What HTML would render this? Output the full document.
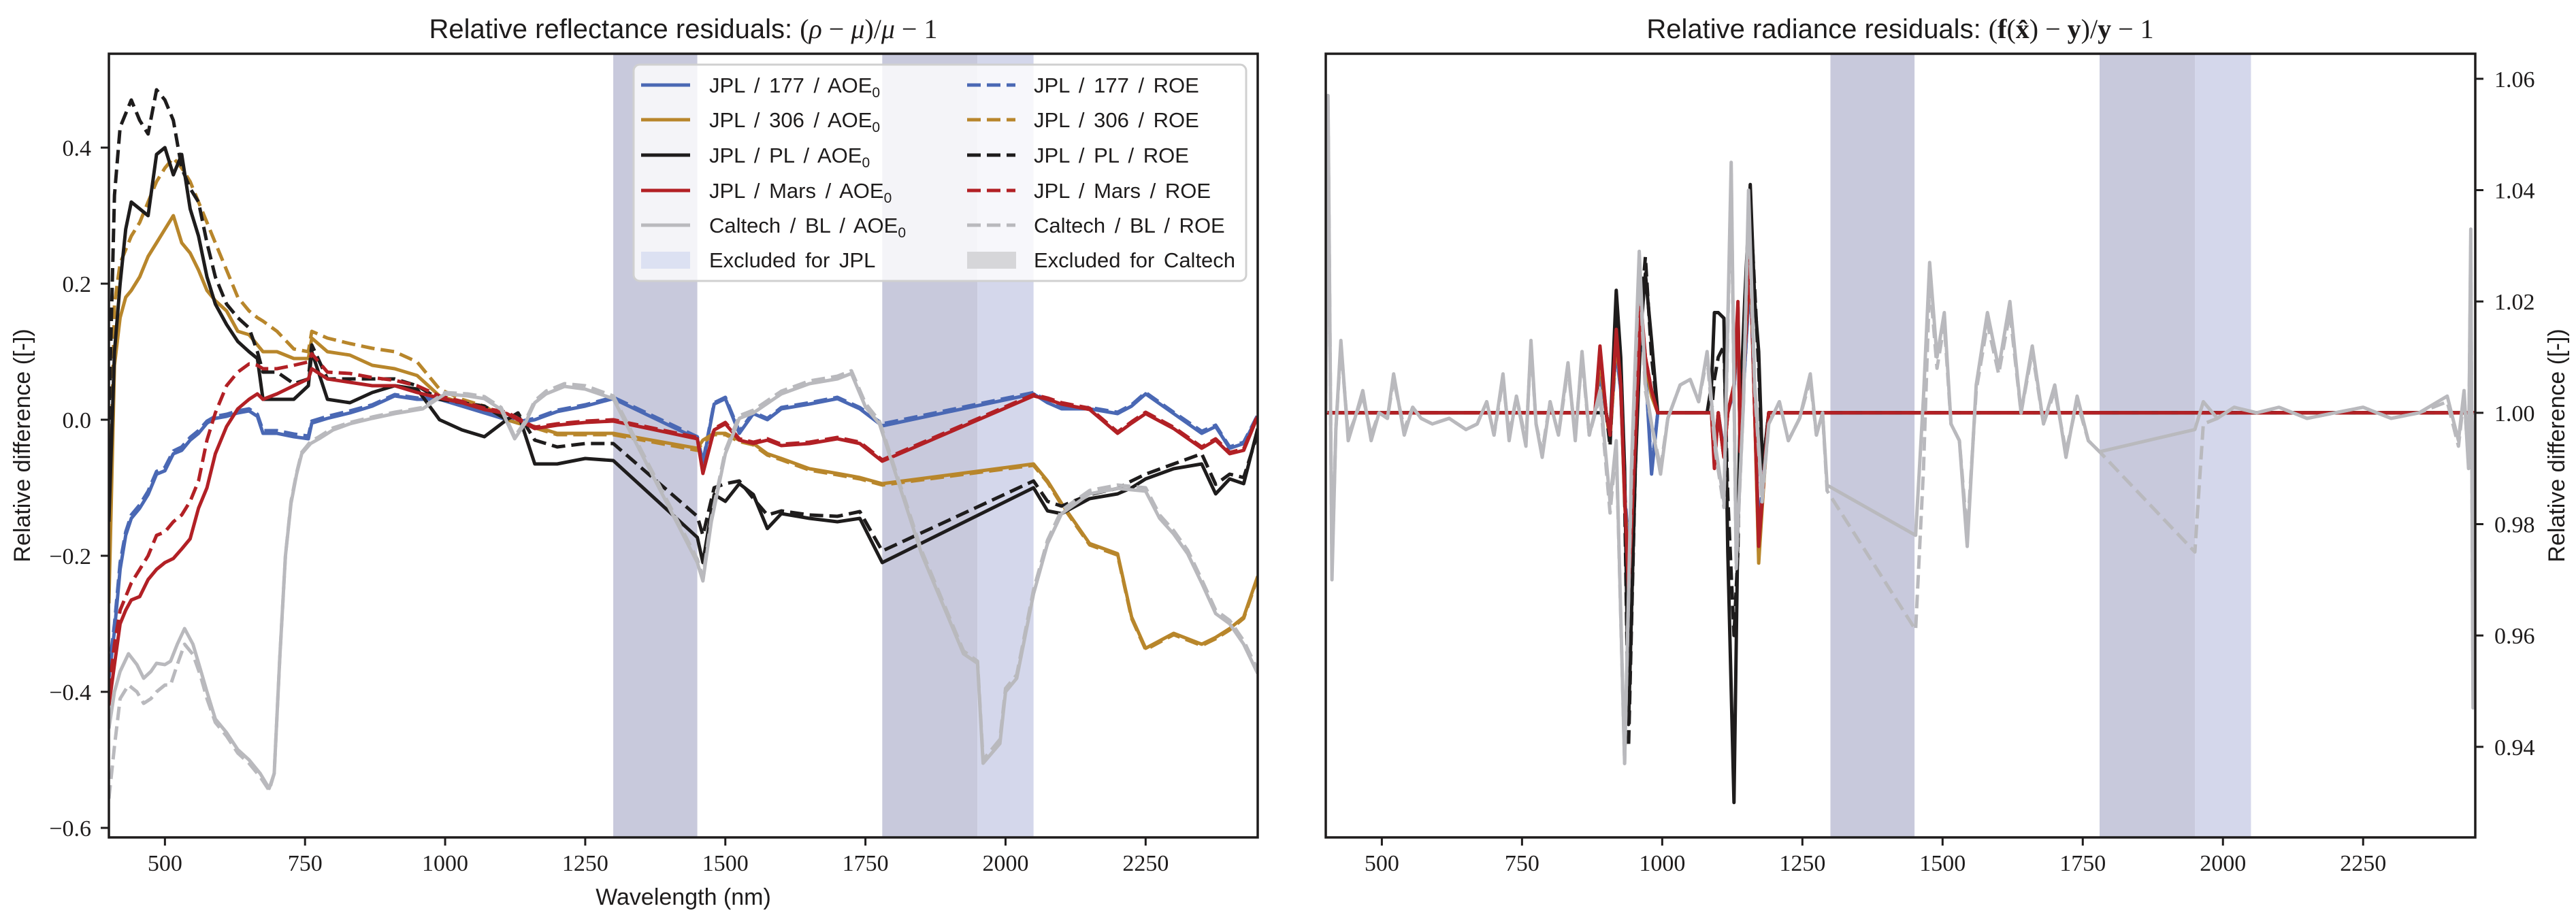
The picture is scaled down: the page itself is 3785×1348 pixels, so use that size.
<!DOCTYPE html>
<html><head><meta charset="utf-8">
<style>
html,body{margin:0;padding:0;background:#fff;}
svg{display:block;}
.tick{font-family:"Liberation Serif",serif;font-size:34px;fill:#1e1c1c;}
.lab{font-family:"Liberation Sans",sans-serif;font-size:34px;fill:#1e1c1c;}
.ttl{font-family:"Liberation Sans",sans-serif;font-size:40px;fill:#1e1c1c;}
.leg{font-family:"Liberation Sans",sans-serif;font-size:31px;fill:#1e1c1c;word-spacing:5px;}
</style></head>
<body>
<svg id="fig" width="3785" height="1348" viewBox="0 0 3785 1348" xmlns="http://www.w3.org/2000/svg">
<defs>
<clipPath id="clipL"><rect x="160" y="79" width="1688" height="1152"/></clipPath>
<clipPath id="clipR"><rect x="1948" y="79" width="1689" height="1152"/></clipPath>
</defs>
<g id="left"></g>
<g id="right"></g>
</svg>
<script>
// ---------- LEFT PANEL DATA ----------
const wlJ = [400,410,420,430,440,455,470,485,500,515,530,545,560,575,590,610,630,650,665,675,700,730,756,762,790,830,870,910,950,990,1030,1070,1110,1130,1160,1200,1250,1300,1450,1460,1480,1500,1525,1550,1575,1600,1650,1700,1740,1780,2050,2075,2100,2150,2200,2225,2250,2300,2350,2375,2400,2425,2450];
const b177Aoe = [-0.38,-0.31,-0.22,-0.17,-0.145, -0.13,-0.11,-0.08,-0.075,-0.05, -0.045,-0.03,-0.02,-0.005,0.002, 0.005,0.01,0.013,0.005,-0.02, -0.02,-0.025,-0.028,-0.005,0.002, 0.01,0.02,0.035,0.03,0.03, 0.02,0.01,0.0,-0.005,0.0, 0.012,0.02,0.031,-0.028,-0.065, 0.023,0.031,-0.02,0.009,0.0, 0.016,0.023,0.031,0.016,-0.009, 0.038,0.025,0.016,0.016,0.009, 0.02,0.038,0.009,-0.02,-0.01, -0.042,-0.035,0.005];
const b177Roe = [-0.37,-0.30,-0.21,-0.165,-0.14, -0.125,-0.105,-0.076,-0.07,-0.046, -0.04,-0.026,-0.016,-0.002,0.005, 0.008,0.013,0.016,0.008,-0.016, -0.016,-0.021,-0.024,-0.002,0.005, 0.013,0.022,0.037,0.032,0.032, 0.022,0.012,0.002,-0.003,0.002, 0.014,0.022,0.033,-0.025,-0.062, 0.025,0.033,-0.017,0.011,0.002, 0.018,0.025,0.033,0.018,-0.006, 0.04,0.027,0.018,0.018,0.011, 0.022,0.04,0.011,-0.017,-0.008, -0.04,-0.033,0.007];
const g306Aoe = [-0.27,0.08,0.15,0.18,0.19, 0.21,0.24,0.26,0.28,0.30, 0.26,0.245,0.22,0.19,0.175, 0.16,0.13,0.125,0.11,0.10, 0.10,0.09,0.09,0.12,0.10, 0.095,0.08,0.075,0.065,0.035, 0.025,0.02,0.0,-0.005,-0.01, -0.02,-0.02,-0.02,-0.042,-0.03, -0.02,-0.02,-0.03,-0.035,-0.05, -0.057,-0.072,-0.079,-0.085,-0.094, -0.065,-0.09,-0.123,-0.182,-0.197, -0.29,-0.336,-0.314,-0.33,-0.32, -0.307,-0.29,-0.23];
const g306Roe = [-0.2,0.17,0.23,0.25,0.27, 0.29,0.32,0.35,0.37,0.385, 0.37,0.35,0.32,0.29,0.26, 0.22,0.18,0.16,0.15,0.145, 0.13,0.104,0.10,0.13,0.12, 0.112,0.105,0.10,0.085,0.045, 0.03,0.02,0.0,-0.005,-0.012, -0.022,-0.022,-0.022,-0.045,-0.033, -0.022,-0.022,-0.032,-0.037,-0.052, -0.059,-0.074,-0.081,-0.087,-0.096, -0.067,-0.092,-0.125,-0.184,-0.199, -0.292,-0.338,-0.316,-0.332,-0.322, -0.309,-0.292,-0.232];
const plAoe = [-0.15,0.10,0.20,0.28,0.32, 0.31,0.30,0.39,0.40,0.36, 0.39,0.31,0.27,0.21,0.17, 0.14,0.115,0.10,0.09,0.03, 0.03,0.03,0.05,0.10,0.03, 0.025,0.04,0.05,0.045,0.0, -0.015,-0.025,0.0,0.01,-0.065, -0.065,-0.057,-0.06,-0.173,-0.21, -0.11,-0.12,-0.094,-0.11,-0.16, -0.138,-0.145,-0.15,-0.145,-0.21, -0.10,-0.134,-0.138,-0.116,-0.109, -0.10,-0.087,-0.072,-0.065,-0.109, -0.087,-0.094,-0.013];
const plRoe = [0.0,0.33,0.43,0.45,0.47, 0.44,0.42,0.485,0.47,0.44, 0.37,0.34,0.32,0.26,0.21, 0.17,0.15,0.135,0.10,0.07, 0.07,0.053,0.06,0.11,0.06, 0.06,0.06,0.06,0.05,0.03, 0.025,0.02,0.0,0.01,-0.03, -0.04,-0.035,-0.035,-0.142,-0.17, -0.10,-0.094,-0.09,-0.116,-0.14, -0.134,-0.14,-0.142,-0.135,-0.193, -0.09,-0.12,-0.127,-0.11,-0.101, -0.09,-0.08,-0.065,-0.05,-0.095, -0.08,-0.085,-0.02];
const marsAoe = [-0.42,-0.36,-0.30,-0.28,-0.265, -0.26,-0.235,-0.22,-0.21,-0.204, -0.19,-0.175,-0.13,-0.10,-0.05, -0.01,0.016,0.03,0.038,0.03, 0.038,0.05,0.06,0.075,0.06, 0.055,0.05,0.05,0.04,0.032, 0.025,0.015,0.009,0.0,-0.013, -0.008,-0.004,-0.002,-0.028,-0.079, -0.015,-0.006,-0.03,-0.035,-0.03, -0.038,-0.035,-0.028,-0.035,-0.061, 0.035,0.03,0.023,0.015,-0.02, -0.005,0.009,-0.013,-0.042,-0.03, -0.05,-0.045,0.005];
const marsRoe = [-0.40,-0.33,-0.28,-0.26,-0.24, -0.22,-0.20,-0.17,-0.165,-0.15, -0.14,-0.12,-0.09,-0.03,0.01, 0.05,0.07,0.082,0.08,0.075, 0.075,0.08,0.085,0.097,0.07, 0.068,0.062,0.058,0.05,0.035, 0.027,0.017,0.011,0.002,-0.011, -0.006,-0.002,0.0,-0.026,-0.077, -0.013,-0.004,-0.028,-0.033,-0.028, -0.036,-0.033,-0.026,-0.033,-0.059, 0.037,0.032,0.025,0.017,-0.018, -0.003,0.011,-0.011,-0.04,-0.028, -0.048,-0.043,0.007];
const wlC = [400,410,420,435,450,462,475,485,500,510,522,535,550,563,575,590,610,630,650,670,686,695,705,715,725,735,744,760,775,800,830,870,910,960,1000,1040,1070,1100,1124,1143,1160,1180,1213,1250,1300,1450,1460,1475,1500,1525,1550,1600,1650,1700,1725,1750,1775,1850,1925,1950,1960,1990,2000,2020,2050,2075,2100,2150,2200,2250,2275,2300,2325,2350,2375,2400,2425,2450];
const calAoe = [-0.454,-0.40,-0.37,-0.344,-0.36, -0.38,-0.37,-0.358,-0.36,-0.355, -0.33,-0.307,-0.33,-0.366,-0.40, -0.44,-0.46,-0.485,-0.50,-0.52, -0.542,-0.52,-0.35,-0.20,-0.123, -0.08,-0.05,-0.035,-0.028,-0.015, -0.006,0.002,0.009,0.016,0.038, 0.035,0.031,0.015,-0.028,-0.005, 0.025,0.038,0.049,0.045,0.031, -0.21,-0.237,-0.15,-0.05,0.002, 0.01,0.038,0.053,0.06,0.068, 0.019,-0.006,-0.197,-0.344,-0.358, -0.505,-0.476,-0.40,-0.38,-0.256, -0.182,-0.138,-0.109,-0.101,-0.105, -0.145,-0.168,-0.197,-0.24,-0.285, -0.30,-0.33,-0.373];
const calRoe = [-0.557,-0.48,-0.41,-0.39,-0.40, -0.417,-0.41,-0.40,-0.39,-0.39, -0.36,-0.33,-0.345,-0.375,-0.41, -0.445,-0.465,-0.49,-0.505,-0.525, -0.545,-0.52,-0.35,-0.20,-0.12, -0.078,-0.048,-0.032,-0.025,-0.012, -0.004,0.004,0.011,0.018,0.04, 0.038,0.034,0.018,-0.025,-0.002, 0.028,0.042,0.053,0.05,0.035, -0.205,-0.232,-0.145,-0.045,0.006, 0.014,0.042,0.057,0.064,0.072, 0.024,-0.002,-0.192,-0.34,-0.355, -0.5,-0.47,-0.395,-0.375,-0.25, -0.177,-0.133,-0.104,-0.096,-0.1, -0.14,-0.163,-0.192,-0.235,-0.28, -0.295,-0.325,-0.368];
const yTicksL = [-0.6,-0.4,-0.2,0.0,0.2,0.4];
const yTickLabelsL = ["\u22120.6","\u22120.4","\u22120.2","0.0","0.2","0.4"];
const xTicks = [500,750,1000,1250,1500,1750,2000,2250];
const xTickLabels = ["500","750","1000","1250","1500","1750","2000","2250"];
const bandsDark = [[1300,1450],[1780,1950]];
const bandsLight = [[1950,2050]];

// ---------- RIGHT PANEL DATA ----------
const wlRC = [400,404,411,418,427,440,452,466,481,495,510,521,540,555,570,590,620,650,670,687,700,716,727,740,757,766,775,786,800,815,832,845,857,870,889,907,918,933,945,959,970,981,997,1010,1032,1050,1065,1080,1095,1110,1123,1132,1145,1154,1165,1178,1190,1209,1225,1245,1264,1275,1286,1294,1452,1466,1477,1490,1503,1515,1530,1544,1560,1580,1600,1620,1640,1660,1680,1700,1720,1740,1760,1780,1950,1965,1990,2020,2060,2100,2150,2200,2250,2300,2350,2400,2420,2430,2438,2442,2446,2450];
const rCalAoe = [1.0,1.057,0.970,0.997,1.013,0.995,0.999,1.004,0.995,1.000,0.999,1.007,0.996,1.001,0.999,0.998,0.999,0.997,0.998,1.002,0.996,1.007,0.995,1.003,0.994,1.013,0.998,0.992,1.002,0.996,1.009,0.995,1.011,0.996,1.004,0.984,0.995,0.937,0.990,1.029,1.005,0.998,0.989,0.999,1.005,1.006,1.002,1.011,0.994,0.984,1.045,0.973,1.002,1.040,1.005,0.985,0.998,1.002,0.995,0.999,1.007,0.996,1.000,0.987,0.978,1.003,1.027,1.010,1.018,0.998,0.995,0.976,1.005,1.018,1.008,1.020,1.000,1.012,0.998,1.005,0.992,1.003,0.995,0.993,0.997,1.002,0.999,1.001,1.000,1.001,0.999,1.000,1.001,0.999,1.000,1.003,0.995,1.004,0.990,1.033,0.947,1.000];
const rCalRoe = [1.0,1.055,0.972,0.997,1.012,0.996,0.999,1.003,0.996,1.000,0.999,1.006,0.997,1.001,0.999,0.998,0.999,0.997,0.998,1.002,0.996,1.006,0.996,1.003,0.995,1.012,0.998,0.993,1.002,0.996,1.008,0.996,1.010,0.996,1.003,0.982,0.994,0.937,0.988,1.027,1.004,0.998,0.990,0.999,1.005,1.006,1.002,1.010,0.993,0.983,1.043,0.972,1.002,1.038,1.004,0.984,0.998,1.002,0.995,0.999,1.006,0.996,1.000,0.986,0.961,0.990,1.024,1.008,1.016,0.998,0.995,0.978,1.004,1.016,1.007,1.018,1.000,1.011,0.998,1.004,0.993,1.002,0.995,0.993,0.975,0.998,0.999,1.001,1.000,1.001,0.999,1.000,1.001,0.999,1.000,1.002,0.994,1.003,0.991,1.030,0.950,1.000];
const wlRJ = [400,880,889,900,907,918,926,933,940,952,962,970,981,992,1080,1088,1093,1100,1110,1117,1128,1135,1139,1147,1157,1165,1172,1179,1190,2450];
const rB177Aoe = [1.0,1.0,1.008,1.0,0.996,1.012,1.004,0.985,0.975,0.995,1.016,1.008,0.989,1.0,1.0,1.0,0.992,1.0,0.993,1.0,1.004,1.017,0.994,1.008,1.026,1.0,0.978,0.986,1.0,1.0];
const rB177Roe = [1.0,1.0,1.007,1.0,0.996,1.011,1.004,0.986,0.976,0.995,1.015,1.008,0.990,1.0,1.0,1.0,0.993,1.0,0.993,1.0,1.004,1.016,0.994,1.008,1.025,1.0,0.979,0.987,1.0,1.0];
const rG306Aoe = [1.0,1.0,1.01,1.0,0.995,1.014,1.005,0.984,0.972,0.995,1.018,1.009,1.003,1.0,1.0,1.0,0.991,1.0,0.992,1.0,1.005,1.019,0.993,1.01,1.028,1.0,0.973,0.984,1.0,1.0];
const rG306Roe = [1.0,1.0,1.009,1.0,0.995,1.013,1.005,0.985,0.973,0.995,1.017,1.009,1.003,1.0,1.0,1.0,0.991,1.0,0.992,1.0,1.005,1.018,0.993,1.01,1.027,1.0,0.974,0.985,1.0,1.0];
const rPlAoe = [1.0,1.0,1.0,1.0,0.996,1.022,1.010,0.99,0.944,0.99,1.015,1.025,1.013,1.0,1.0,1.005,1.018,1.018,1.017,0.975,0.930,0.98,1.0,1.02,1.041,1.02,1.011,0.99,1.0,1.0];
const rPlRoe = [1.0,1.0,1.0,1.0,0.994,1.020,1.008,0.985,0.940,0.99,1.018,1.028,1.010,1.0,1.0,1.0,1.006,1.010,1.012,0.985,0.960,0.975,1.0,1.015,1.038,1.022,1.008,0.99,1.0,1.0];
const rMarsAoe = [1.0,1.0,1.012,1.0,0.996,1.015,1.005,0.985,0.968,0.995,1.02,1.01,1.004,1.0,1.0,1.0,0.990,1.0,0.992,1.0,1.005,1.02,0.993,1.01,1.029,1.0,0.976,0.985,1.0,1.0];
const rMarsRoe = [1.0,1.0,1.011,1.0,0.996,1.014,1.005,0.986,0.969,0.995,1.019,1.01,1.004,1.0,1.0,1.0,0.991,1.0,0.992,1.0,1.005,1.019,0.993,1.01,1.028,1.0,0.977,0.986,1.0,1.0];
const yTicksR = [0.94,0.96,0.98,1.00,1.02,1.04,1.06];
const yTickLabelsR = ["0.94","0.96","0.98","1.00","1.02","1.04","1.06"];

// ---------- helpers ----------
const NS = "http://www.w3.org/2000/svg";
const C = {blue:"#4a68b4", gold:"#b8862b", black:"#1e1c1c", red:"#b22025", gray:"#b9b9bd", dark:"#c8c9dc", light:"#d4d7eb"};
const L = {x0:160, x1:1848, y0:79, y1:1231, wmin:400, wmax:2450, vmin:-0.614, vmax:0.538};
const R = {x0:1948, x1:3637, y0:79, y1:1231, wmin:400, wmax:2450, vmin:0.92373, vmax:1.0645};
function sx(A,w){return A.x0+(w-A.wmin)/(A.wmax-A.wmin)*(A.x1-A.x0);}
function sy(A,v){return A.y0+(A.vmax-v)/(A.vmax-A.vmin)*(A.y1-A.y0);}
function mk(tag,attrs,parent){const e=document.createElementNS(NS,tag);for(const k in attrs)e.setAttribute(k,attrs[k]);parent.appendChild(e);return e;}

function drawPanel(g, A, clipId){
  const bg = mk('g',{'clip-path':'url(#'+clipId+')'},g);
  bandsDark.forEach(b=>{
    const r=mk('rect',{x:sx(A,b[0]),y:A.y0,width:sx(A,b[1])-sx(A,b[0]),height:A.y1-A.y0,fill:C.dark},bg);
    
    
  });
  bandsLight.forEach(b=>{
    const r=mk('rect',{x:sx(A,b[0]),y:A.y0,width:sx(A,b[1])-sx(A,b[0]),height:A.y1-A.y0,fill:C.light},bg);
    
    
  });
  return bg;
}
function drawSeries(parent, A, wl, vals, color, dashed, name){
  let d='';
  for(let i=0;i<wl.length && i<vals.length;i++){
    d += (i?'L':'M') + sx(A,wl[i]).toFixed(1) + ' ' + sy(A,vals[i]).toFixed(1);
  }
  const p=mk('path',{d:d,fill:'none',stroke:color,'stroke-width':5,'stroke-linejoin':'round'},parent);
  if(dashed) p.setAttribute('stroke-dasharray','20 9');
  
  
}
function drawAxes(g, A, yT, yTL, right){
  const fr=mk('rect',{x:A.x0,y:A.y0,width:A.x1-A.x0,height:A.y1-A.y0,fill:'none',stroke:C.black,'stroke-width':3.5},g);
  
  
  xTicks.forEach((t,i)=>{
    const x=sx(A,t);
    mk('line',{x1:x,x2:x,y1:A.y1,y2:A.y1+12,stroke:C.black,'stroke-width':3},g);
    const tx=mk('text',{x:x,y:A.y1+49,'text-anchor':'middle',class:'tick'},g);
    tx.textContent=xTickLabels[i];
    
    
  });
  yT.forEach((t,i)=>{
    const y=sy(A,t);
    if(right){
      mk('line',{x1:A.x1,x2:A.x1+12,y1:y,y2:y,stroke:C.black,'stroke-width':3},g);
      const tx=mk('text',{x:A.x1+28,y:y+12,'text-anchor':'start',class:'tick'},g);
      tx.textContent=yTL[i];
      
      
    } else {
      mk('line',{x1:A.x0-12,x2:A.x0,y1:y,y2:y,stroke:C.black,'stroke-width':3},g);
      const tx=mk('text',{x:A.x0-26,y:y+12,'text-anchor':'end',class:'tick'},g);
      tx.textContent=yTL[i];
      
      
    }
  });
}

// ---------- LEFT ----------
const gL=document.getElementById('left');
const clL=drawPanel(gL,L,'clipL');
drawSeries(clL,L,wlJ,b177Aoe,C.blue,false,'jpl-177-aoe-line');
drawSeries(clL,L,wlJ,b177Roe,C.blue,true,'jpl-177-roe-line');
drawSeries(clL,L,wlJ,g306Aoe,C.gold,false,'jpl-306-aoe-line');
drawSeries(clL,L,wlJ,g306Roe,C.gold,true,'jpl-306-roe-line');
drawSeries(clL,L,wlJ,plAoe,C.black,false,'jpl-pl-aoe-line');
drawSeries(clL,L,wlJ,plRoe,C.black,true,'jpl-pl-roe-line');
drawSeries(clL,L,wlJ,marsAoe,C.red,false,'jpl-mars-aoe-line');
drawSeries(clL,L,wlJ,marsRoe,C.red,true,'jpl-mars-roe-line');
drawSeries(clL,L,wlC,calAoe,C.gray,false,'caltech-bl-aoe-line');
drawSeries(clL,L,wlC,calRoe,C.gray,true,'caltech-bl-roe-line');
drawAxes(gL,L,yTicksL,yTickLabelsL,false);

// ---------- RIGHT ----------
const gR=document.getElementById('right');
const clR=drawPanel(gR,R,'clipR');
drawSeries(clR,R,wlRJ,rB177Aoe,C.blue,false,'r-jpl-177-aoe-line');
drawSeries(clR,R,wlRJ,rB177Roe,C.blue,true,'r-jpl-177-roe-line');
drawSeries(clR,R,wlRJ,rG306Aoe,C.gold,false,'r-jpl-306-aoe-line');
drawSeries(clR,R,wlRJ,rG306Roe,C.gold,true,'r-jpl-306-roe-line');
drawSeries(clR,R,wlRJ,rPlAoe,C.black,false,'r-jpl-pl-aoe-line');
drawSeries(clR,R,wlRJ,rPlRoe,C.black,true,'r-jpl-pl-roe-line');
drawSeries(clR,R,wlRJ,rMarsAoe,C.red,false,'r-jpl-mars-aoe-line');
drawSeries(clR,R,wlRJ,rMarsRoe,C.red,true,'r-jpl-mars-roe-line');
drawSeries(clR,R,wlRC,rCalAoe,C.gray,false,'r-caltech-bl-aoe-line');
drawSeries(clR,R,wlRC,rCalRoe,C.gray,true,'r-caltech-bl-roe-line');
drawAxes(gR,R,yTicksR,yTickLabelsR,true);
</script>
<div style="position:absolute;left:0;top:0;width:3785px;height:1348px;pointer-events:none;">
<svg width="3785" height="1348" viewBox="0 0 3785 1348" xmlns="http://www.w3.org/2000/svg">
  <text class="ttl" x="1004" y="56" text-anchor="middle">Relative reflectance residuals: <tspan font-family="Liberation Serif, serif">(<tspan font-style="italic">ρ</tspan> − <tspan font-style="italic">μ</tspan>)/<tspan font-style="italic">μ</tspan> − 1</tspan></text>
  <text class="ttl" x="2792" y="56" text-anchor="middle">Relative radiance residuals: <tspan font-family="Liberation Serif, serif">(<tspan font-weight="bold">f</tspan>(<tspan font-weight="bold">x̂</tspan>) − <tspan font-weight="bold">y</tspan>)/<tspan font-weight="bold">y</tspan> − 1</tspan></text>
  <text class="lab" x="1004" y="1330" text-anchor="middle">Wavelength (nm)</text>
  <text class="lab" transform="translate(44,655) rotate(-90)" text-anchor="middle">Relative difference ([-])</text>
  <text class="lab" transform="translate(3768,655) rotate(-90)" text-anchor="middle">Relative difference ([-])</text>
  <g>
    <rect x="931" y="95" width="900" height="318" rx="9" fill="#ffffff" fill-opacity="0.8" stroke="#d0d0d0" stroke-width="3"/>
    <g><line x1="942" x2="1014" y1="125" y2="125" stroke="#4a68b4" stroke-width="5"/><text class="leg" x="1042" y="136">JPL / 177 / AOE<tspan font-size="21" dy="7">0</tspan></text></g>
    <g><line x1="942" x2="1014" y1="176" y2="176" stroke="#b8862b" stroke-width="5"/><text class="leg" x="1042" y="187">JPL / 306 / AOE<tspan font-size="21" dy="7">0</tspan></text></g>
    <g><line x1="942" x2="1014" y1="228" y2="228" stroke="#1e1c1c" stroke-width="5"/><text class="leg" x="1042" y="239">JPL / PL / AOE<tspan font-size="21" dy="7">0</tspan></text></g>
    <g><line x1="942" x2="1014" y1="280" y2="280" stroke="#b22025" stroke-width="5"/><text class="leg" x="1042" y="291">JPL / Mars / AOE<tspan font-size="21" dy="7">0</tspan></text></g>
    <g><line x1="942" x2="1014" y1="331" y2="331" stroke="#b9b9bd" stroke-width="5"/><text class="leg" x="1042" y="342">Caltech / BL / AOE<tspan font-size="21" dy="7">0</tspan></text></g>
    <g><rect x="942" y="370" width="72" height="25" fill="#dce1f2"/><text class="leg" x="1042" y="393">Excluded for JPL</text></g>
    <g><line x1="1421" x2="1492" y1="125" y2="125" stroke="#4a68b4" stroke-width="5" stroke-dasharray="20 9"/><text class="leg" x="1519" y="136">JPL / 177 / ROE</text></g>
    <g><line x1="1421" x2="1492" y1="176" y2="176" stroke="#b8862b" stroke-width="5" stroke-dasharray="20 9"/><text class="leg" x="1519" y="187">JPL / 306 / ROE</text></g>
    <g><line x1="1421" x2="1492" y1="228" y2="228" stroke="#1e1c1c" stroke-width="5" stroke-dasharray="20 9"/><text class="leg" x="1519" y="239">JPL / PL / ROE</text></g>
    <g><line x1="1421" x2="1492" y1="280" y2="280" stroke="#b22025" stroke-width="5" stroke-dasharray="20 9"/><text class="leg" x="1519" y="291">JPL / Mars / ROE</text></g>
    <g><line x1="1421" x2="1492" y1="331" y2="331" stroke="#b9b9bd" stroke-width="5" stroke-dasharray="20 9"/><text class="leg" x="1519" y="342">Caltech / BL / ROE</text></g>
    <g><rect x="1421" y="370" width="72" height="25" fill="#d6d6d9"/><text class="leg" x="1519" y="393">Excluded for Caltech</text></g>
  </g>
</svg>
</div>
</body></html>
